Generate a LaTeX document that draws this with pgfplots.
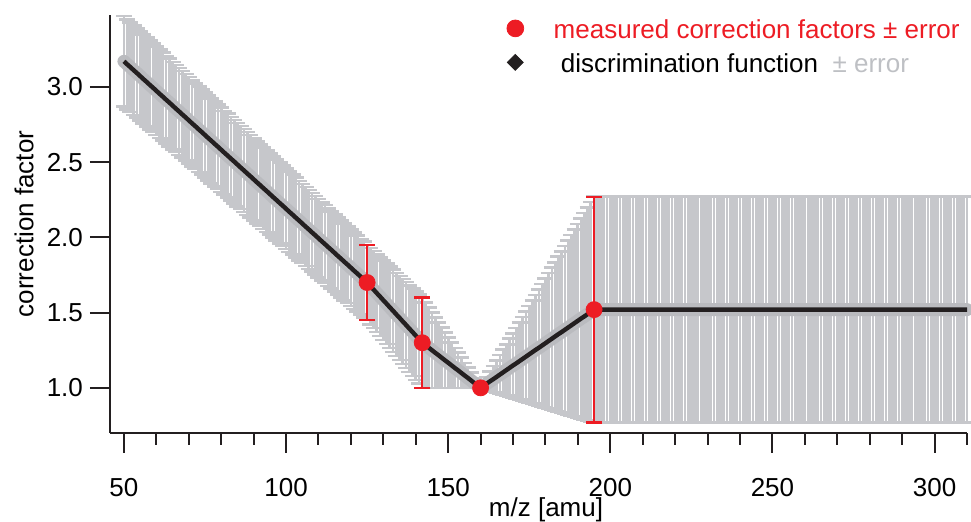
\documentclass[border=0pt]{standalone}
\usepackage{fontspec}
\setmainfont{Liberation Sans}
\usepackage{pgfplots}
\usepackage{pgfplotstable}
\pgfplotsset{compat=1.18}
\definecolor{greyband}{RGB}{198,199,203}
\definecolor{greyhalo}{RGB}{186,187,191}
\definecolor{greytext}{RGB}{190,192,196}
\definecolor{lineblack}{RGB}{35,31,32}
\definecolor{myred}{RGB}{237,28,36}
\pgfplotstableread{
x y e
50 3.170 0.300
51 3.150 0.299
52 3.131 0.299
53 3.111 0.298
54 3.092 0.297
55 3.072 0.297
56 3.052 0.296
57 3.033 0.295
58 3.013 0.295
59 2.994 0.294
60 2.974 0.293
61 2.954 0.293
62 2.935 0.292
63 2.915 0.291
64 2.896 0.291
65 2.876 0.290
66 2.856 0.289
67 2.837 0.289
68 2.817 0.288
69 2.798 0.287
70 2.778 0.287
71 2.758 0.286
72 2.739 0.285
73 2.719 0.285
74 2.700 0.284
75 2.680 0.283
76 2.660 0.283
77 2.641 0.282
78 2.621 0.281
79 2.602 0.281
80 2.582 0.280
81 2.562 0.279
82 2.543 0.279
83 2.523 0.278
84 2.504 0.277
85 2.484 0.277
86 2.464 0.276
87 2.445 0.275
88 2.425 0.275
89 2.406 0.274
90 2.386 0.273
91 2.366 0.273
92 2.347 0.272
93 2.327 0.271
94 2.308 0.271
95 2.288 0.270
96 2.268 0.269
97 2.249 0.269
98 2.229 0.268
99 2.210 0.267
100 2.190 0.267
101 2.170 0.266
102 2.151 0.265
103 2.131 0.265
104 2.112 0.264
105 2.092 0.263
106 2.072 0.263
107 2.053 0.262
108 2.033 0.261
109 2.014 0.261
110 1.994 0.260
111 1.974 0.259
112 1.955 0.259
113 1.935 0.258
114 1.916 0.257
115 1.896 0.257
116 1.876 0.256
117 1.857 0.255
118 1.837 0.255
119 1.818 0.254
120 1.798 0.253
121 1.778 0.253
122 1.759 0.252
123 1.739 0.251
124 1.720 0.251
125 1.700 0.250
126 1.676 0.253
127 1.653 0.256
128 1.629 0.259
129 1.606 0.262
130 1.582 0.265
131 1.559 0.268
132 1.535 0.271
133 1.512 0.274
134 1.488 0.276
135 1.465 0.279
136 1.441 0.282
137 1.418 0.285
138 1.394 0.288
139 1.371 0.291
140 1.347 0.294
141 1.324 0.297
142 1.300 0.300
143 1.283 0.283
144 1.267 0.267
145 1.250 0.250
146 1.233 0.233
147 1.217 0.217
148 1.200 0.200
149 1.183 0.183
150 1.167 0.167
151 1.150 0.150
152 1.133 0.133
153 1.117 0.117
154 1.100 0.100
155 1.083 0.083
156 1.067 0.067
157 1.050 0.050
158 1.033 0.033
159 1.017 0.017
160 1.000 0.000
161 1.015 0.021
162 1.030 0.043
163 1.045 0.064
164 1.059 0.086
165 1.074 0.107
166 1.089 0.129
167 1.104 0.150
168 1.119 0.171
169 1.134 0.193
170 1.149 0.214
171 1.163 0.236
172 1.178 0.257
173 1.193 0.279
174 1.208 0.300
175 1.223 0.321
176 1.238 0.343
177 1.253 0.364
178 1.267 0.386
179 1.282 0.407
180 1.297 0.429
181 1.312 0.450
182 1.327 0.471
183 1.342 0.493
184 1.357 0.514
185 1.371 0.536
186 1.386 0.557
187 1.401 0.579
188 1.416 0.600
189 1.431 0.621
190 1.446 0.643
191 1.461 0.664
192 1.475 0.686
193 1.490 0.707
194 1.505 0.729
195 1.520 0.750
196 1.52 0.75
197 1.52 0.75
198 1.52 0.75
199 1.52 0.75
200 1.52 0.75
201 1.52 0.75
202 1.52 0.75
203 1.52 0.75
204 1.52 0.75
205 1.52 0.75
206 1.52 0.75
207 1.52 0.75
208 1.52 0.75
209 1.52 0.75
210 1.52 0.75
211 1.52 0.75
212 1.52 0.75
213 1.52 0.75
214 1.52 0.75
215 1.52 0.75
216 1.52 0.75
217 1.52 0.75
218 1.52 0.75
219 1.52 0.75
220 1.52 0.75
221 1.52 0.75
222 1.52 0.75
223 1.52 0.75
224 1.52 0.75
225 1.52 0.75
226 1.52 0.75
227 1.52 0.75
228 1.52 0.75
229 1.52 0.75
230 1.52 0.75
231 1.52 0.75
232 1.52 0.75
233 1.52 0.75
234 1.52 0.75
235 1.52 0.75
236 1.52 0.75
237 1.52 0.75
238 1.52 0.75
239 1.52 0.75
240 1.52 0.75
241 1.52 0.75
242 1.52 0.75
243 1.52 0.75
244 1.52 0.75
245 1.52 0.75
246 1.52 0.75
247 1.52 0.75
248 1.52 0.75
249 1.52 0.75
250 1.52 0.75
251 1.52 0.75
252 1.52 0.75
253 1.52 0.75
254 1.52 0.75
255 1.52 0.75
256 1.52 0.75
257 1.52 0.75
258 1.52 0.75
259 1.52 0.75
260 1.52 0.75
261 1.52 0.75
262 1.52 0.75
263 1.52 0.75
264 1.52 0.75
265 1.52 0.75
266 1.52 0.75
267 1.52 0.75
268 1.52 0.75
269 1.52 0.75
270 1.52 0.75
271 1.52 0.75
272 1.52 0.75
273 1.52 0.75
274 1.52 0.75
275 1.52 0.75
276 1.52 0.75
277 1.52 0.75
278 1.52 0.75
279 1.52 0.75
280 1.52 0.75
281 1.52 0.75
282 1.52 0.75
283 1.52 0.75
284 1.52 0.75
285 1.52 0.75
286 1.52 0.75
287 1.52 0.75
288 1.52 0.75
289 1.52 0.75
290 1.52 0.75
291 1.52 0.75
292 1.52 0.75
293 1.52 0.75
294 1.52 0.75
295 1.52 0.75
296 1.52 0.75
297 1.52 0.75
298 1.52 0.75
299 1.52 0.75
300 1.52 0.75
301 1.52 0.75
302 1.52 0.75
303 1.52 0.75
304 1.52 0.75
305 1.52 0.75
306 1.52 0.75
307 1.52 0.75
308 1.52 0.75
309 1.52 0.75
310 1.52 0.75
}\disc
\pgfplotstableread{
x y e
125 1.70 0.25
142 1.30 0.30
160 1.00 0.00
195 1.52 0.75
}\meas
\begin{document}
\begin{tikzpicture}
\begin{axis}[name=ax,
  set layers=standard,
  width=428.5pt, height=209pt, scale only axis,
  xmin=45.7, xmax=310, ymin=0.70, ymax=3.478,
  axis x line*=bottom, axis y line*=left,
  axis line style={line width=1pt, lineblack},
  tick align=outside,
  xtick={50,100,150,200,250,300},
  minor xtick={60,70,...,310},
  ytick={1,1.5,2,2.5,3},
  major tick length=10pt, minor tick length=6pt,
  tick style={line width=1pt, lineblack},
  clip=false,
  font=\fontsize{13}{15.6}\selectfont,
  /pgf/number format/assume math mode=true,
  yticklabel style={/pgf/number format/.cd, fixed, fixed zerofill, precision=1},
  xticklabel style={yshift=-9pt},
  xlabel={m/z [amu]},
  ylabel={correction factor},
  xlabel style={at={(axis description cs:0.5,0)}, anchor=center, yshift=-38.3pt, xshift=3.75pt, inner sep=0.5pt},
  ylabel style={at={(axis description cs:-0.1003,0.5)}, anchor=center},
  legend style={draw=none, fill=none, at={(1,1)}, anchor=north east, xshift=-0.5pt, yshift=0pt,
    font=\fontsize{13}{15.6}\selectfont, row sep=4pt, column sep=15pt,
    nodes={inner sep=0pt, text height=9.5pt, text depth=3.5pt}},
  legend cell align=left,
  legend image code/.code={\draw[#1] plot coordinates {(0pt,2pt)};},
]
% grey error bars of the discrimination function (kept beneath the line)
\addplot[on layer=axis background, mark layer=axis background,
  greyband, only marks, mark=none, forget plot,
  error bars/.cd, y dir=both, y explicit,
  error bar style={greyband, line width=1.4pt},
  error mark options={greyband, rotate=90, mark size=4pt, line width=1.3pt}]
  table[x=x, y=y, y error=e]{\disc};
% grey halo round the discrimination function
\addplot[on layer=main, greyhalo, line width=6.5pt, line cap=round, line join=round, mark=none, forget plot]
  table[x=x, y=y]{\disc};
% discrimination function
\addplot[on layer=main, lineblack, line width=2.2pt, line join=round, mark=none, forget plot]
  table[x=x, y=y]{\disc};
% measured correction factors
\addplot[on layer=axis foreground, mark layer=axis foreground,
  myred, only marks, mark=*, mark size=4pt, forget plot,
  error bars/.cd, y dir=both, y explicit,
  error bar style={myred, line width=1.2pt},
  error mark options={myred, rotate=90, mark size=4pt, line width=1.2pt}]
  table[x=x, y=y, y error=e]{\meas};
\addlegendimage{only marks, mark=*, mark size=4.2pt, myred}
\addlegendentry{\textcolor{myred}{measured correction factors ± error}}
\addlegendimage{only marks, mark=square*, mark size=2.8pt, mark options={rotate=45}, lineblack}
\addlegendentry{\ discrimination function\ \ \textcolor{greytext}{± error}}
\end{axis}
\pgfresetboundingbox
\path[use as bounding box] ([shift={(-55pt,-44.5pt)}]ax.south west) rectangle ([shift={(2pt,7.5pt)}]ax.north east);
\end{tikzpicture}
\end{document}
